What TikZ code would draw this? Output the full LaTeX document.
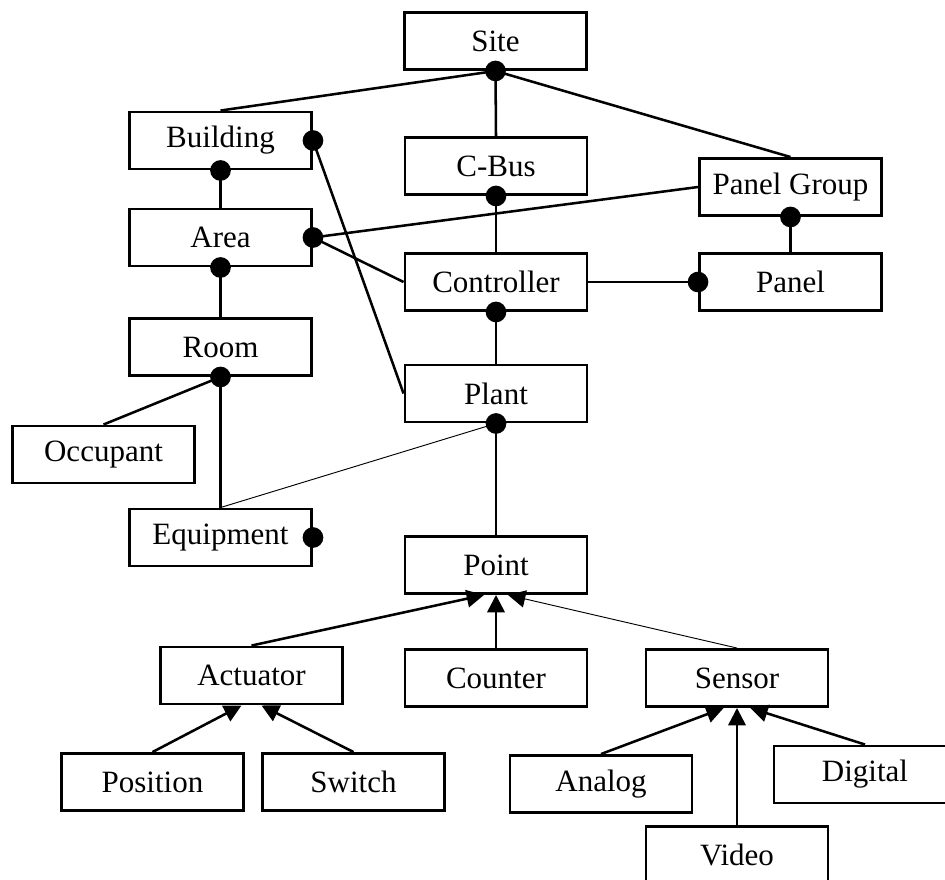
\documentclass[tikz,border=0pt]{standalone}
\usepackage{fontspec}
\setmainfont{Liberation Serif}
\usetikzlibrary{arrows.meta}
\begin{document}
\begin{tikzpicture}[x=0.75pt,y=-0.75pt,
  box/.style={draw, line width=2.2pt, minimum width=136.5pt, minimum height=42.75pt, inner sep=0pt, font=\fontsize{23.25}{28}\selectfont},
  link/.style={line width=1.9pt},
  thinlink/.style={line width=0.7pt},
  isa/.style={line width=1.9pt, -{Triangle[length=13pt,width=13pt]}},
  dot/.style={circle, fill=black, inner sep=0pt, minimum size=15.5pt}]
\clip (0,0) rectangle (945,879);
\fill[white] (0,0) rectangle (945,879);
% boxes
\node[box] (site) at (495.5,41) {Site};
\node[box] (building) at (220.5,140.5) {Building};
\node[box] (cbus) at (496,166) {C-Bus};
\node[box] (panelgroup) at (790.5,187) {Panel Group};
\node[box] (area) at (220.5,237.5) {Area};
\node[box] (controller) at (496,282) {Controller};
\node[box] (panel) at (790.5,282) {Panel};
\node[box] (room) at (220.5,347) {Room};
\node[box] (plant) at (496,393.5) {Plant};
\node[box] (occupant) at (103.5,454.5) {Occupant};
\node[box] (equipment) at (220.5,537.5) {Equipment};
\node[box] (point) at (496,565) {Point};
\node[box] (actuator) at (251.5,675.5) {Actuator};
\node[box] (counter) at (496,678) {Counter};
\node[box] (sensor) at (737,678) {Sensor};
\node[box] (position) at (152.5,782) {Position};
\node[box] (switch) at (353.5,782) {Switch};
\node[box] (analog) at (601,784) {Analog};
\node[box] (digital) at (865,774.5) {Digital};
\node[box] (video) at (737,855) {Video};
% association links
\draw[link] (site.south) -- (building.north);
\draw[link] (site.south) -- (cbus.north);
\draw[link] (site.south) -- (panelgroup.north);
\draw[link] (building.east) -- (plant.west);
\draw[link] (building.south) -- (area.north);
\draw[link] (cbus.south) -- (controller.north);
\draw[link] (panelgroup.south) -- (panel.north);
\draw[link] (area.east) -- (panelgroup.west);
\draw[link] (area.east) -- (controller.west);
\draw[link] (area.south) -- (room.north);
\draw[link] (controller.east) -- (panel.west);
\draw[link] (controller.south) -- (plant.north);
\draw[link] (room.south) -- (occupant.north);
\draw[link] (room.south) -- (equipment.north);
\draw[thinlink] (plant.south) -- (equipment.north);
\draw[link] (plant.south) -- (point.north);
% dots
\node[dot] (dsite) at (site.south) {};
\node[dot] (dbuild) at (building.east) {};
\node[dot] (dbuilds) at (building.south) {};
\node[dot] (dcbus) at (cbus.south) {};
\node[dot] (dpg) at (panelgroup.south) {};
\node[dot] (darea) at (area.east) {};
\node[dot] (dareas) at (area.south) {};
\node[dot] (dpanel) at (panel.west) {};
\node[dot] (dctrl) at (controller.south) {};
\node[dot] (droom) at (room.south) {};
\node[dot] (dplant) at (plant.south) {};
\node[dot] (dequip) at (equipment.east) {};
% generalisation
\draw[isa] (actuator.north) -- ([xshift=-9pt]point.south);
\draw[isa] (counter.north) -- (point.south);
\draw[isa, line width=0.7pt] (sensor.north) -- ([xshift=9pt]point.south);
\draw[isa] (position.north) -- ([xshift=-7.5pt]actuator.south);
\draw[isa] (switch.north) -- ([xshift=7.5pt]actuator.south);
\draw[isa] (analog.north) -- ([xshift=-10pt]sensor.south);
\draw[isa] (video.north) -- (sensor.south);
\draw[isa] (digital.north) -- ([xshift=10pt]sensor.south);
\end{tikzpicture}
\end{document}
